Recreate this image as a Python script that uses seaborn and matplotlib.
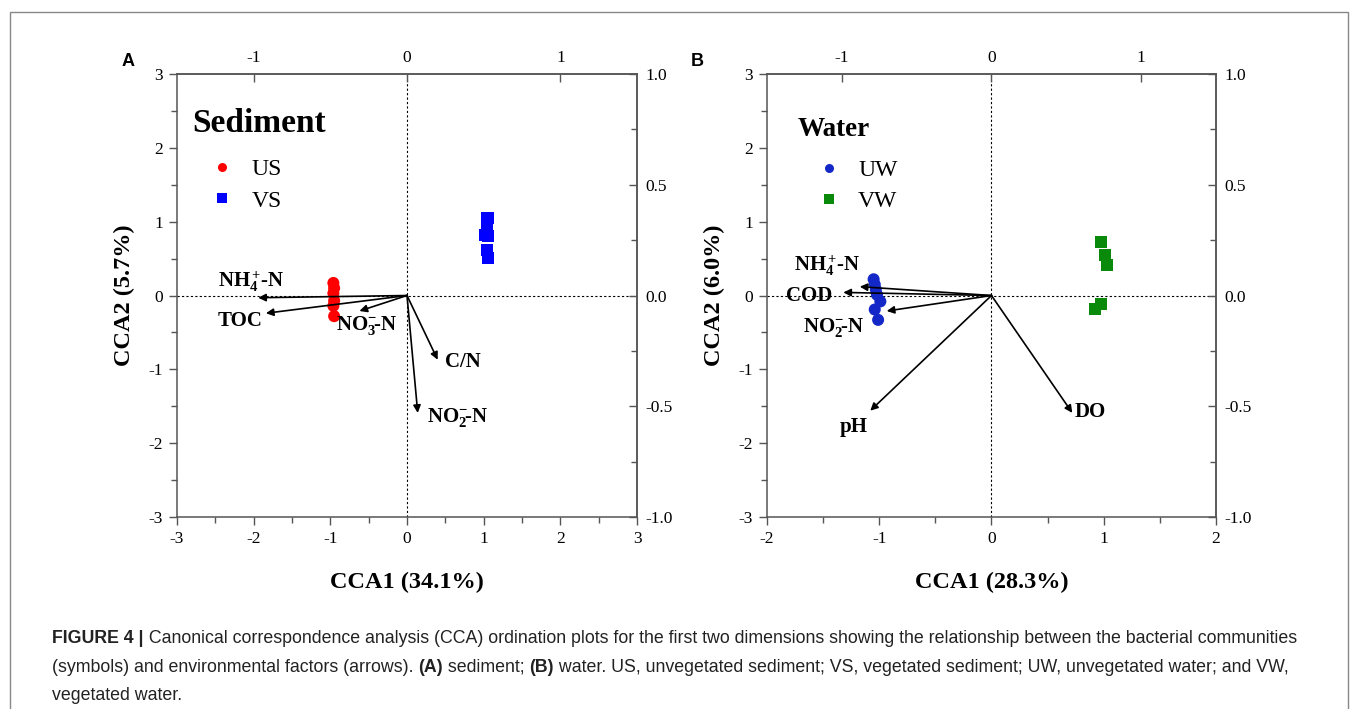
import numpy as np
import pandas as pd
import matplotlib
matplotlib.use("Agg")
import matplotlib.pyplot as plt
import matplotlib.patches as mpatches
from matplotlib.font_manager import FontProperties
import seaborn as sns

# ---- data ----
# sample scores (CCA1, CCA2), primary axes units
us_x = [-0.96, -0.95, -0.96, -0.95, -0.96, -0.95]
us_y = [0.17, 0.10, 0.03, -0.07, -0.14, -0.28]
vs_x = [1.05, 1.04, 1.02, 1.06, 1.04, 1.06]
vs_y = [1.05, 0.93, 0.82, 0.81, 0.62, 0.51]

uw_x = [-1.05, -1.04, -1.03, -1.02, -0.99, -1.04, -1.01]
uw_y = [0.22, 0.15, 0.08, 0.01, -0.08, -0.19, -0.33]
vw_x = [0.98, 1.01, 1.03, 0.92, 0.98]
vw_y = [0.72, 0.55, 0.41, -0.18, -0.12]

# environmental arrows, secondary (top/right) axes units
sed_env = ["NH4", "TOC", "NO3", "CN", "NO2"]
sed_env_x = [-0.97, -0.92, -0.31, 0.20, 0.07]
sed_env_y = [-0.01, -0.08, -0.07, -0.29, -0.53]
sed_env_lab = [r"NH$_4^+\!$-N", "TOC", r"NO$_3^{-}\!$-N", "C/N", r"NO$_2^{-}\!$-N"]
sed_lab_xy = [(-2.47, 0.19), (-2.47, -0.34), (-0.93, -0.40), (0.49, -0.90), (0.26, -1.65)]

wat_env = ["NH4", "COD", "NO2", "pH", "DO"]
wat_env_x = [-0.88, -0.99, -0.70, -0.81, 0.54]
wat_env_y = [0.04, 0.014, -0.07, -0.52, -0.53]
wat_env_lab = [r"NH$_4^+\!$-N", "COD", r"NO$_2^{-}\!$-N", "pH", "DO"]
wat_lab_xy = [(-1.76, 0.41), (-1.83, -0.01), (-1.68, -0.43), (-1.35, -1.78), (0.74, -1.58)]

sns.set_style("white")
plt.rcParams["font.family"] = ["Liberation Serif", "DejaVu Serif"]
plt.rcParams["mathtext.fontset"] = "custom"
plt.rcParams["mathtext.rm"] = "Liberation Serif:bold"
plt.rcParams["mathtext.it"] = "Liberation Serif:bold"
plt.rcParams["mathtext.bf"] = "Liberation Serif:bold"
plt.rcParams["axes.unicode_minus"] = False
for key in ("text.color", "axes.labelcolor", "xtick.labelcolor", "ytick.labelcolor"):
    plt.rcParams[key] = "black"

spine_c = "#555555"
label_font = FontProperties(family="Liberation Serif", weight="bold", size=17.5)
fig = plt.figure(figsize=(13.58, 7.09), dpi=100)
axA = fig.add_axes([0.1303, 0.2708, 0.3388, 0.6248])
axB = fig.add_axes([0.5648, 0.2708, 0.3306, 0.6248])


def style_axes(ax, xlim, xmaj, sx, sy, sxt):
    ax.set_xlim(xlim)
    ax.set_ylim(-3, 3)
    ax.set_xticks(xmaj)
    ax.set_xticks(np.arange(xlim[0] + 0.5, xlim[1], 0.5), minor=True)
    ax.set_yticks(np.arange(-3, 4, 1))
    ax.set_yticks(np.arange(-2.5, 3, 0.5), minor=True)
    ax.tick_params(which="major", direction="out", length=6, width=1, color=spine_c,
                   labelsize=12.5, pad=4, labelcolor="black")
    ax.tick_params(which="minor", direction="out", length=4, width=1, color=spine_c)
    ax.tick_params(bottom=True, left=True, which="both")
    for s in ax.spines.values():
        s.set_color(spine_c)
        s.set_linewidth(1.1)
    ax.axhline(0, color="k", lw=0.8, ls=(0, (2, 2)), zorder=0)
    ax.axvline(0, color="k", lw=0.8, ls=(0, (2, 2)), zorder=0)
    top = ax.secondary_xaxis("top", functions=(lambda v: v / sx, lambda v: v * sx))
    top.set_xticks(sxt)
    top.set_xticklabels([str(t) for t in sxt])
    top.tick_params(direction="in", length=6, width=1, color=spine_c, labelsize=12.5, pad=6,
                    labelcolor="black")
    right = ax.secondary_yaxis("right", functions=(lambda v: v / sy, lambda v: v * sy))
    right.set_yticks([-1.0, -0.5, 0.0, 0.5, 1.0])
    right.set_yticklabels(["-1.0", "-0.5", "0.0", "0.5", "1.0"])
    right.set_yticks([-0.75, -0.25, 0.25, 0.75], minor=True)
    right.tick_params(which="both", direction="in", color=spine_c, width=1, labelsize=12.5, pad=6,
                      labelcolor="black")
    right.tick_params(which="major", length=6)
    right.tick_params(which="minor", length=4)
    for sp in (top.spines.values(), right.spines.values()):
        for s in sp:
            s.set_color(spine_c)
            s.set_linewidth(1.1)


def draw_arrows(ax, ex, ey, labels, lab_xy, sx, sy):
    for x, y, lab, (tx, ty) in zip(ex, ey, labels, lab_xy):
        ax.annotate("", xy=(x * sx, y * sy), xytext=(0, 0),
                    arrowprops=dict(arrowstyle="-|>", color="k", lw=1.2,
                                    mutation_scale=11, shrinkA=0, shrinkB=0))
        ax.text(tx, ty, lab, fontsize=15, fontweight="bold", color="black",
                ha="left", va="center")


def add_legend(ax, title, title_xy, title_size, anchor):
    ax.text(title_xy[0], title_xy[1], title, transform=ax.transAxes, fontsize=title_size,
            fontweight="bold", color="black", ha="left", va="center")
    leg = ax.legend(loc="upper left", bbox_to_anchor=anchor, frameon=False, fontsize=17,
                    markerscale=0.75, handlelength=1.0, handletextpad=0.75,
                    labelspacing=0.42, borderaxespad=0, borderpad=0, labelcolor="black")
    return leg


def bold_labels(ax, xl, yl):
    ax.set_xlabel(xl, fontproperties=label_font, labelpad=18, color="black")
    ax.set_ylabel(yl, fontproperties=label_font, labelpad=10, color="black")


# ---- panel A: sediment ----
sed = pd.DataFrame({"CCA1": us_x + vs_x, "CCA2": us_y + vs_y,
                    "group": ["US"] * len(us_x) + ["VS"] * len(vs_x)})
sns.scatterplot(data=sed, x="CCA1", y="CCA2", hue="group", style="group",
                palette={"US": "#ff0000", "VS": "#0000ff"},
                markers={"US": "o", "VS": "s"}, s=75, linewidth=0, ax=axA, zorder=3)
style_axes(axA, (-3, 3), [-3, -2, -1, 0, 1, 2, 3], 2.0, 3.0, [-1, 0, 1])
draw_arrows(axA, sed_env_x, sed_env_y, sed_env_lab, sed_lab_xy, 2.0, 3.0)
bold_labels(axA, "CCA1 (34.1%)", "CCA2 (5.7%)")
add_legend(axA, "Sediment", (0.0326, 0.889), 24, (0.072, 0.809))

# ---- panel B: water ----
wat = pd.DataFrame({"CCA1": uw_x + vw_x, "CCA2": uw_y + vw_y,
                    "group": ["UW"] * len(uw_x) + ["VW"] * len(vw_x)})
sns.scatterplot(data=wat, x="CCA1", y="CCA2", hue="group", style="group",
                palette={"UW": "#1428c8", "VW": "#0a8a0a"},
                markers={"UW": "o", "VW": "s"}, s=75, linewidth=0, ax=axB, zorder=3)
style_axes(axB, (-2, 2), [-2, -1, 0, 1, 2], 4.0 / 3.0, 3.0, [-1, 0, 1])
draw_arrows(axB, wat_env_x, wat_env_y, wat_env_lab, wat_lab_xy, 4.0 / 3.0, 3.0)
bold_labels(axB, "CCA1 (28.3%)", "CCA2 (6.0%)")
add_legend(axB, "Water", (0.0690, 0.875), 19.5, (0.111, 0.807))

# panel letters
fig.text(128 / 1358, 1 - 62 / 709, "A", fontsize=13, fontweight="bold",
         family="Liberation Sans", ha="center", va="center")
fig.text(697 / 1358, 1 - 62 / 709, "B", fontsize=13, fontweight="bold",
         family="Liberation Sans", ha="center", va="center")

# border
fig.patches.append(mpatches.Rectangle((10 / 1358, -0.02), 1338 / 1358, 1 - 12 / 709 + 0.02,
                                      transform=fig.transFigure, fill=False,
                                      edgecolor="#888888", lw=1.0))

# caption, drawn piece by piece so bold parts sit inline
cap_lines = [
    [("FIGURE 4 |", True), (" Canonical correspondence analysis (CCA) ordination plots for the first two dimensions showing the relationship between the bacterial communities", False)],
    [("(symbols) and environmental factors (arrows). ", False), ("(A)", True), (" sediment; ", False), ("(B)", True),
     (" water. US, unvegetated sediment; VS, vegetated sediment; UW, unvegetated water; and VW,", False)],
    [("vegetated water.", False)],
]
cap_base = [643, 672, 700]
fig.canvas.draw()
renderer = fig.canvas.get_renderer()
for pieces, yy in zip(cap_lines, cap_base):
    x = 52 / 1358
    for txt, bold in pieces:
        t = fig.text(x, 1 - yy / 709, txt, fontsize=12.75, family="Liberation Sans",
                     fontweight="bold" if bold else "normal", color="#222222",
                     ha="left", va="baseline")
        bb = t.get_window_extent(renderer)
        x += bb.width / (fig.dpi * 13.58)

fig.savefig("out.png", dpi=100)
